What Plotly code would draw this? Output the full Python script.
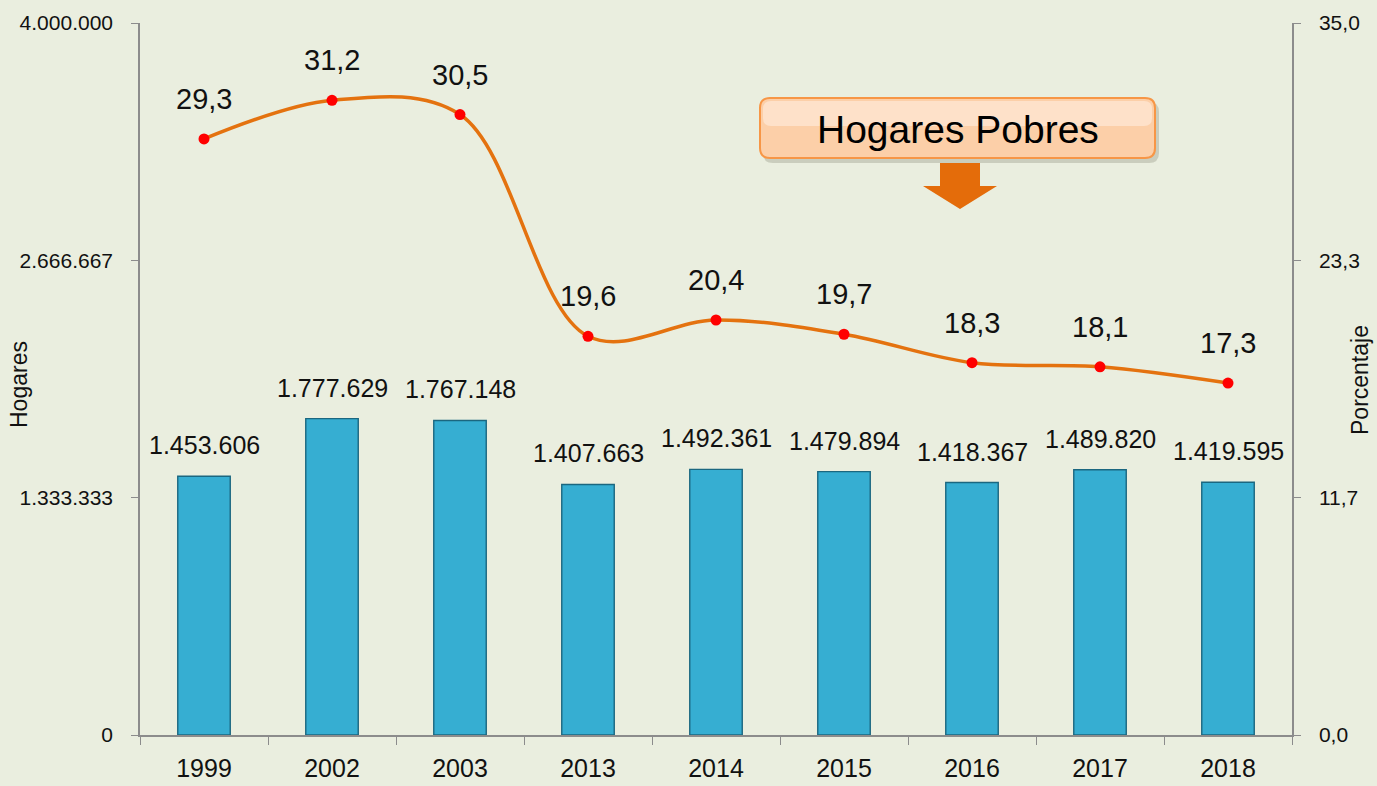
import plotly.graph_objects as go

years = ["1999", "2002", "2003", "2013", "2014", "2015", "2016", "2017", "2018"]
hogares = [1453606, 1777629, 1767148, 1407663, 1492361, 1479894, 1418367, 1489820, 1419595]
porcentaje = [29.3, 31.2, 30.5, 19.6, 20.4, 19.7, 18.3, 18.1, 17.3]
left_ticks = [0, 1333333, 2666667, 4000000]
left_ticktext = ["0", "1.333.333", "2.666.667", "4.000.000"]
right_ticks = [0, 35 / 3, 70 / 3, 35]
right_ticktext = ["0,0", "11,7", "23,3", "35,0"]

FONT = "Liberation Sans, Arial, sans-serif"
BG = "#EAEEDF"

# plot area in pixels (for decoration placement)
L, R, T, B = 140, 1292, 23, 735


def px(x):
    return (x - L) / (R - L)


def py(y):
    return (B - y) / (B - T)


def fmt_int(v):
    return f"{v:,}".replace(",", ".")


def fmt_dec(v):
    return f"{v:.1f}".replace(".", ",")


def rounded_rect(x0, y0, x1, y1, r):
    # pixel coords -> paper path with rounded corners
    pts = [
        f"M {px(x0 + r)},{py(y0)}",
        f"L {px(x1 - r)},{py(y0)}",
        f"Q {px(x1)},{py(y0)} {px(x1)},{py(y0 + r)}",
        f"L {px(x1)},{py(y1 - r)}",
        f"Q {px(x1)},{py(y1)} {px(x1 - r)},{py(y1)}",
        f"L {px(x0 + r)},{py(y1)}",
        f"Q {px(x0)},{py(y1)} {px(x0)},{py(y1 - r)}",
        f"L {px(x0)},{py(y0 + r)}",
        f"Q {px(x0)},{py(y0)} {px(x0 + r)},{py(y0)}",
        "Z",
    ]
    return " ".join(pts)


fig = go.Figure()
fig.add_trace(go.Bar(
    x=years, y=hogares, yaxis="y",
    marker=dict(color="#36AED2", line=dict(color="#1B6780", width=1.4)),
    width=0.41, showlegend=False, hoverinfo="x+y",
))
fig.add_trace(go.Scatter(
    x=years, y=porcentaje, yaxis="y2", mode="lines+markers",
    line=dict(color="#E4720F", width=3.5, shape="spline", smoothing=1.0),
    marker=dict(color="#FF0000", size=11),
    showlegend=False,
))

annotations = []
for i, v in enumerate(hogares):
    annotations.append(dict(x=i, y=v, xref="x", yref="y", text=fmt_int(v),
                            showarrow=False, yshift=31,
                            font=dict(family=FONT, size=25, color="#111111")))
for i, v in enumerate(porcentaje):
    annotations.append(dict(x=i, y=v, xref="x", yref="y2", text=fmt_dec(v),
                            showarrow=False, yshift=40,
                            font=dict(family=FONT, size=29, color="#111111")))

# Title box text
annotations.append(dict(
    x=px(958), y=py(129), xref="paper", yref="paper",
    xanchor="center", yanchor="middle",
    text="Hogares Pobres", showarrow=False,
    font=dict(family=FONT, size=39, color="#000000"),
))
# axis titles
annotations.append(dict(
    x=0, y=py(385), xref="paper", yref="paper", xshift=-(L - 19),
    xanchor="center", yanchor="middle",
    text="Hogares", textangle=-90, showarrow=False,
    font=dict(family=FONT, size=23, color="#111111"),
))
annotations.append(dict(
    x=1, y=py(380), xref="paper", yref="paper", xshift=1360 - R,
    xanchor="center", yanchor="middle",
    text="Porcentaje", textangle=-90, showarrow=False,
    font=dict(family=FONT, size=23, color="#111111"),
))

shapes = [
    dict(type="path", xref="paper", yref="paper",
         path=rounded_rect(763, 102, 1159, 163, 10),
         fillcolor="rgba(90,90,70,0.22)", line=dict(width=0), layer="below"),
    dict(type="path", xref="paper", yref="paper",
         path=rounded_rect(760, 98, 1155, 158, 10),
         fillcolor="#FCCFA8", line=dict(color="#F79646", width=2), layer="below"),
    dict(type="path", xref="paper", yref="paper",
         path=rounded_rect(763, 101, 1152, 126, 8),
         fillcolor="rgba(255,240,228,0.55)", line=dict(width=0), layer="below"),
    dict(type="path", xref="paper", yref="paper",
         path=(f"M {px(940)},{py(163)} L {px(980)},{py(163)} L {px(980)},{py(186)} "
               f"L {px(997)},{py(186)} L {px(960)},{py(209)} L {px(923)},{py(186)} "
               f"L {px(940)},{py(186)} Z"),
         fillcolor="#E46C0A", line=dict(width=0)),
]

fig.update_layout(
    width=1377, height=786,
    margin=dict(l=L, r=1377 - R, t=T, b=786 - B, autoexpand=False),
    paper_bgcolor=BG, plot_bgcolor=BG,
    annotations=annotations,
    shapes=shapes,
    xaxis=dict(
        type="category", range=[-0.5, len(years) - 0.5],
        showgrid=False, showline=True, linecolor="#8C8C8C", linewidth=1.5,
        ticks="outside", tickson="boundaries", ticklen=8, tickcolor="#8C8C8C",
        tickangle=0, automargin=False, ticklabelstandoff=10,
        tickfont=dict(family=FONT, size=25, color="#111111"),
    ),
    yaxis=dict(
        range=[0, 4000000], tickvals=left_ticks, ticktext=left_ticktext,
        showgrid=False, zeroline=False, showline=True, linecolor="#8C8C8C", linewidth=1.5,
        ticks="outside", ticklen=7, tickcolor="#8C8C8C", automargin=False,
        ticklabelstandoff=14,
        tickfont=dict(family=FONT, size=21, color="#111111"),
    ),
    yaxis2=dict(
        range=[0, 35], tickvals=right_ticks, ticktext=right_ticktext,
        overlaying="y", side="right",
        showgrid=False, zeroline=False, showline=True, linecolor="#8C8C8C", linewidth=1.5,
        ticks="outside", ticklen=7, tickcolor="#8C8C8C", automargin=False,
        ticklabelstandoff=14,
        tickfont=dict(family=FONT, size=21, color="#111111"),
    ),
)

fig.write_html("out.html", config={"displayModeBar": False},
               post_script="document.body.style.margin='0';")
